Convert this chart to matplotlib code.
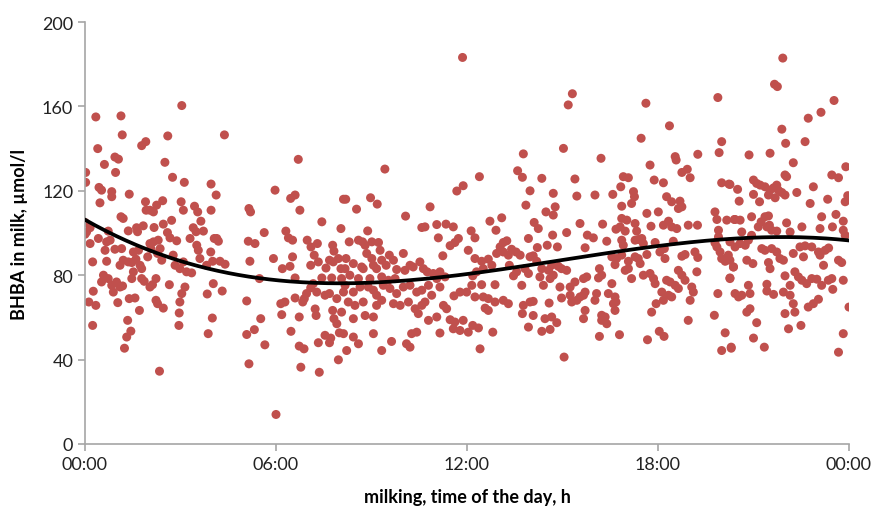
import numpy as np
import matplotlib.pyplot as plt

# BHBA readings (hour of milking, umol/l)
strip_00_04 = [
    (3.04, 160.4), (0.34, 155), (1.13, 155.5), (1.17, 146.5), (2.6, 146), (1.78, 141.4),
    (1.91, 143.3), (0.4, 140), (0.94, 136), (1.05, 135), (0.61, 132.5), (2.51, 133.5),
    (0.96, 128.7), (0.02, 128.7), (0.02, 124), (2.75, 126.4), (3.12, 124), (3.96, 123.2),
    (0.44, 121.6), (0.52, 120.3), (0.84, 119.6), (0.84, 117.2), (1.39, 118.4), (0.47, 114.3),
    (1.9, 114.8), (2.04, 110.8), (2.25, 113.2), (2.44, 115.3), (2.15, 110), (1.92, 110.8),
    (3.02, 114.8), (3.09, 110.8), (3.44, 112.7), (3.54, 110), (3.96, 110.8), (1.13, 107.7),
    (1.2, 106.9), (2.72, 106), (3.64, 105.6), (0.0, 105), (0.05, 100.5), (0.16, 102.5),
    (0.0, 99.4), (1.36, 101), (1.62, 102.5), (1.83, 103.4), (1.65, 100.6), (2.17, 102.6),
    (2.46, 104.2), (2.59, 100.2), (2.67, 97.7), (3.49, 100.6), (3.4, 102.5), (3.72, 100.9),
    (3.3, 97.4), (4.06, 97.4), (0.42, 97.4), (0.73, 100.9), (0.16, 95), (0.68, 95.8),
    (0.79, 96.6), (0.63, 91.8), (2.04, 95), (2.15, 95.8), (2.3, 96.6), (2.36, 92.6),
    (2.07, 92.6), (2.88, 96.3), (3.51, 94.2), (3.56, 91.8), (3.61, 87.9), (3.95, 91),
    (0.94, 92.3), (1.15, 92.6), (1.52, 91), (1.68, 91.8), (1.97, 88.7), (2.77, 89.5),
    (0.24, 86.3), (0.68, 86.6), (1.2, 87.1), (1.36, 86.3), (1.47, 86), (1.6, 87.6),
    (1.73, 84.7), (1.1, 84.7), (2.41, 87.1), (2.28, 90.3), (2.83, 84.7), (2.98, 83.1),
    (3.19, 81.6), (3.35, 81.1), (3.09, 86.3), (3.82, 84.7), (4.01, 86.6), (1.52, 81.6),
    (1.47, 78.4), (1.78, 83.1), (0.58, 80), (0.73, 78.4), (0.52, 76.8), (0.84, 75.2),
    (1.1, 74.4), (0.99, 76.8), (0.89, 72), (1.18, 74.9), (1.78, 78.4), (1.86, 77.1),
    (2.04, 74.4), (2.23, 78.4), (2.12, 75.5), (2.65, 75.5), (3.14, 74.4), (3.04, 71.3),
    (2.98, 67.3), (4.03, 76), (0.26, 72.4), (0.12, 67.3), (0.34, 65.7), (1.03, 67),
    (1.39, 68.9), (1.57, 69.2), (2.23, 68.1), (2.28, 66.5), (2.46, 64.4), (1.71, 63.3),
    (2.96, 62.1), (3.84, 71.1), (4.0, 59.7), (0.24, 56.2), (1.34, 58.6), (1.44, 53.5),
    (1.31, 50.7), (2.95, 56.2), (3.87, 52.3), (1.24, 45.4), (2.34, 34.5),
]

strip_04_08 = [
    (4.38, 146.5), (6.7, 134.9), (5.97, 120.3), (6.46, 116.4), (6.6, 118), (6.75, 110.8),
    (5.15, 111.6), (5.2, 110), (7.44, 105.3), (4.12, 118), (8.12, 116), (8.04, 102.1),
    (5.63, 100.2), (6.31, 100.9), (6.39, 97.7), (6.52, 96.6), (4.14, 97.4), (4.19, 96.1),
    (5.13, 96.1), (5.34, 95), (6.98, 96.6), (7.1, 93.4), (7.3, 95), (7.78, 94.2),
    (7.82, 91.4), (5.18, 86.6), (5.92, 87.9), (6.2, 83.1), (6.44, 84.2), (6.52, 88.7),
    (7.2, 89.5), (7.09, 84.7), (7.33, 86.3), (7.57, 83.4), (7.68, 87.1), (7.8, 86.3),
    (7.96, 87.9), (8.04, 83.1), (4.4, 85.2), (4.24, 86.6), (5.48, 78.4), (6.6, 78.7),
    (7.44, 78.7), (7.75, 78.7), (8.06, 78.4), (4.31, 72.5), (7.09, 74), (7.28, 72),
    (6.96, 71.3), (7.17, 76), (6.89, 68.9), (6.84, 67.3), (7.54, 70.5), (7.68, 71.3),
    (7.91, 68.9), (8.12, 72), (6.6, 69.2), (6.15, 66.5), (6.28, 67.3), (6.18, 61.3),
    (5.08, 67.8), (5.52, 59.4), (6.73, 60.2), (7.23, 64), (7.26, 60.9), (7.78, 63.3),
    (7.82, 59.4), (7.91, 57), (8.06, 62.5), (7.99, 52.7), (8.12, 52.3), (5.32, 54.2),
    (5.08, 51.9), (6.47, 53.4), (7.54, 51.5), (7.72, 50.2), (7.68, 48), (7.33, 48),
    (5.65, 47), (6.73, 46.4), (6.88, 45.1), (5.15, 38), (6.78, 36.4), (7.36, 34),
    (7.96, 39.9), (6.0, 14),
]

strip_08_12 = [
    (11.86, 183.2), (9.42, 130.3), (11.68, 119.9), (11.88, 122.4), (8.19, 116), (8.97, 116.7),
    (9.18, 113.7), (8.53, 111.3), (10.84, 112.4), (10.07, 108), (8.88, 101), (10.58, 102.6),
    (10.68, 102.9), (11.05, 104), (11.34, 104.2), (11.57, 102.9), (12.13, 101), (8.3, 95.8),
    (8.59, 96.6), (8.72, 95.8), (8.8, 94.2), (9.01, 95.8), (9.22, 95.5), (9.27, 91.8),
    (11.1, 97.7), (11.73, 97.4), (11.62, 95.5), (11.47, 94), (12.04, 91.8), (10.0, 90.3),
    (9.56, 89.5), (9.69, 87.1), (8.85, 90.3), (9.01, 87.9), (9.06, 84.7), (9.16, 83.1),
    (9.32, 87.1), (9.46, 84.7), (8.2, 87.9), (8.43, 85.5), (8.69, 83.9), (8.74, 83.1),
    (11.24, 89.2), (8.17, 83.1), (9.79, 82.7), (10.05, 82.3), (10.21, 84.7), (10.31, 83.9),
    (10.52, 86.3), (10.63, 83.1), (10.75, 81.6), (10.94, 80.8), (11.15, 81.6), (11.05, 78.4),
    (11.31, 79.2), (12.18, 79.7), (12.15, 75.2), (11.99, 72), (8.32, 80), (8.59, 78.4),
    (8.95, 78.4), (9.32, 79.2), (9.53, 77.6), (9.74, 78.4), (8.17, 75.2), (8.43, 72),
    (8.64, 74.4), (8.9, 74.4), (9.06, 72.9), (9.16, 70.5), (9.37, 75.2), (9.58, 73.7),
    (9.79, 71.3), (10.0, 74.4), (10.21, 75.2), (10.42, 72), (10.58, 72.9), (10.79, 75.2),
    (10.89, 70.5), (11.15, 74.4), (11.59, 70.2), (11.78, 72), (8.27, 67.3), (8.48, 65.7),
    (8.74, 67.3), (9.16, 65.7), (9.32, 68.1), (9.69, 66.5), (9.9, 65.7), (10.16, 67.3),
    (10.37, 64.1), (10.58, 65.7), (10.68, 67.3), (11.36, 64.1), (11.26, 65.7), (8.8, 60.9),
    (9.06, 60.2), (8.43, 59.4), (10.47, 61.8), (10.79, 58.6), (11.05, 60.2), (11.47, 58.9),
    (11.62, 57.8), (11.88, 58.6), (11.78, 53.8), (12.04, 53), (12.18, 56.2), (11.57, 54.6),
    (8.43, 50.7), (9.06, 52.3), (10.26, 52.3), (10.42, 53), (11.15, 52.6), (8.59, 47.5),
    (9.63, 48.6), (10.1, 47.5), (10.21, 45.9), (9.32, 44.3), (8.22, 44.3),
]

strip_12_16 = [
    (15.31, 166), (15.18, 160.7), (15.03, 140.1), (13.77, 137.5), (16.21, 135.4), (12.39, 126.7),
    (13.59, 129.5), (13.74, 126.4), (14.35, 125.9), (15.39, 125.6), (13.98, 120), (14.71, 118.8),
    (15.45, 117.5), (16.02, 118), (13.85, 113.2), (14.48, 110), (14.71, 108.5), (14.77, 112.4),
    (13.09, 107.2), (12.72, 105.6), (12.91, 101.3), (14.11, 105), (14.24, 102.1), (15.55, 104.5),
    (16.26, 104.2), (12.25, 97.7), (14.69, 99), (15.13, 100.2), (13.93, 97.4), (15.78, 99),
    (15.97, 97.7), (14.52, 94.2), (14.84, 93.4), (14.21, 93.1), (15.71, 93), (13.14, 95.5),
    (13.25, 96.3), (13.04, 93.4), (12.93, 90.3), (13.14, 91), (13.3, 89.5), (13.4, 92.3),
    (13.54, 91), (13.67, 89.5), (12.25, 87.9), (12.46, 86.6), (12.67, 87.6), (12.78, 84.7),
    (12.51, 83.1), (12.3, 81.6), (13.98, 88.7), (14.08, 89.2), (14.19, 86.6), (13.33, 84.7),
    (13.56, 81.6), (13.82, 83.1), (13.93, 80.8), (13.46, 79.7), (14.35, 83.1), (14.56, 82.3),
    (14.66, 84.7), (14.87, 84.2), (14.97, 83.1), (15.13, 82.3), (14.29, 79.2), (14.4, 75.2),
    (14.61, 78.4), (14.71, 80), (14.92, 74.4), (15.24, 74.4), (15.39, 76.8), (15.66, 78.4),
    (15.76, 79.2), (16.16, 83.1), (16.23, 80), (16.13, 78.7), (12.46, 75.5), (12.88, 75.5),
    (13.72, 75.2), (12.25, 69.7), (12.51, 69.7), (12.67, 68.9), (12.88, 67.3), (13.14, 68.1),
    (12.57, 64.4), (12.67, 63.3), (13.3, 66.5), (13.77, 65.7), (13.98, 67.3), (14.08, 67.6),
    (13.74, 61.8), (14.58, 66.8), (14.97, 69.2), (15.29, 67.3), (15.45, 68.1), (15.24, 70.5),
    (15.55, 69.7), (15.66, 70.5), (15.71, 72), (16.02, 68.1), (16.07, 71.3), (14.08, 60.9),
    (14.45, 59.4), (14.66, 60.2), (14.82, 57.5), (15.71, 63.3), (15.66, 59.4), (16.23, 61),
    (16.23, 58.6), (12.36, 55), (12.81, 53), (13.93, 55.4), (14.35, 53.4), (14.61, 54.3),
    (16.16, 51), (12.41, 45.1), (15.05, 41.2),
]

strip_16_20 = [
    (17.62, 161.5), (19.88, 164.2), (18.36, 150.8), (17.47, 144.9), (20.0, 143.3), (19.92, 138.1),
    (18.54, 136.2), (18.57, 134.6), (19.25, 137.3), (17.75, 132.2), (18.75, 128.7), (18.92, 130.2),
    (19.01, 126.2), (20.0, 123.8), (20.23, 123.2), (17.88, 125.1), (18.17, 123.8), (16.91, 126.7),
    (17.07, 126.2), (16.83, 121.9), (17.23, 119.6), (17.26, 117.2), (16.58, 118.3), (18.27, 117.2),
    (18.43, 114.8), (18.69, 115.1), (18.75, 112.4), (18.64, 111.6), (17.17, 114), (16.86, 112.7),
    (19.79, 110), (19.85, 106.4), (20.16, 106.1), (20.4, 106.4), (17.65, 109.3), (18.01, 110),
    (16.86, 106.9), (17.02, 106.1), (16.81, 102.9), (16.68, 101.8), (17.28, 104.5), (17.33, 100.9),
    (16.97, 100.9), (17.78, 103.2), (18.17, 103.7), (18.33, 105.6), (18.43, 102.9), (18.59, 102.1),
    (18.95, 103.7), (19.24, 103.7), (19.9, 101.3), (19.9, 98.2), (19.79, 95.3), (16.39, 96.1),
    (16.86, 96.6), (16.91, 94.2), (17.28, 96.6), (17.38, 96.9), (17.49, 97.4), (17.54, 95),
    (17.91, 95.5), (18.2, 92.6), (18.48, 96.1), (16.55, 88.7), (16.7, 87.9), (16.65, 85),
    (16.86, 89.5), (17.28, 88.7), (17.38, 87.9), (17.65, 89.8), (17.44, 85.5), (17.07, 86.6),
    (18.06, 91), (18.22, 87.9), (18.75, 89), (18.85, 89.8), (19.16, 91), (19.25, 88.4),
    (19.22, 81.6), (19.85, 93.4), (19.95, 91), (20.11, 86.6), (20.0, 87.9), (20.21, 89.5),
    (20.37, 83.9), (20.26, 78.4), (16.97, 82.3), (17.17, 78.4), (17.07, 83.1), (17.54, 80),
    (17.75, 80.8), (17.86, 78.4), (17.91, 76), (18.27, 77.6), (18.38, 76.8), (18.64, 82.3),
    (18.75, 80), (18.54, 75.2), (18.64, 73.7), (18.85, 77.6), (18.12, 72), (18.33, 70.5),
    (18.43, 69.7), (18.17, 68.1), (19.06, 74.4), (19.11, 72), (19.01, 68.1), (16.55, 76),
    (16.44, 71.3), (16.65, 69.7), (16.6, 66.5), (16.68, 67.3), (17.94, 66.5), (17.8, 62.5),
    (16.34, 60.2), (16.39, 57), (16.65, 63.3), (18.95, 58.6), (19.77, 61), (19.88, 71.3),
    (16.79, 51.8), (18.04, 53.4), (18.19, 51), (17.67, 49.4), (20.11, 52.7), (20.0, 44.3),
    (20.3, 45.9),
]

strip_20_24 = [
    (21.92, 182.9), (21.66, 170.5), (21.75, 169.4), (23.53, 162.8), (22.72, 154.4), (23.12, 157.2),
    (21.89, 149.2), (22.62, 143.3), (22.01, 142.5), (21.52, 137.8), (20.86, 137), (22.25, 133.3),
    (23.9, 131.4), (21.99, 127.5), (22.04, 126.7), (23.46, 127.5), (23.67, 126.2), (20.26, 123),
    (21.0, 125.1), (21.1, 123.5), (21.21, 122.7), (21.36, 121.9), (21.52, 120.3), (21.63, 121.4),
    (21.73, 122.7), (21.78, 120.3), (21.89, 119.2), (21.99, 118), (21.47, 118), (21.68, 116.7),
    (22.88, 121.9), (22.36, 119.2), (20.5, 120.7), (21.0, 118.3), (20.55, 115.1), (21.19, 114.8),
    (22.78, 114), (23.33, 116), (23.88, 114.8), (23.96, 117.7), (20.94, 107.7), (21.24, 105.3),
    (21.36, 107.7), (21.47, 108.1), (21.15, 102.9), (21.42, 102.9), (21.57, 101.3), (21.73, 100.9),
    (21.5, 103.7), (20.42, 106.4), (20.58, 106.1), (22.04, 104.8), (22.52, 102.9), (23.14, 107.7),
    (23.59, 108.8), (23.82, 105.6), (23.09, 102.1), (23.48, 102.9), (23.82, 101.3), (23.88, 98.9),
    (20.63, 100.5), (20.94, 98.9), (20.84, 96.6), (22.15, 100.5), (20.26, 95.8), (20.42, 93.4),
    (20.58, 95), (20.74, 94.2), (21.26, 92.6), (21.36, 91.8), (21.57, 92.6), (21.73, 91),
    (21.83, 87.9), (21.94, 87.1), (22.25, 90.3), (22.46, 93.4), (22.62, 93.9), (22.83, 93.4),
    (23.04, 91), (23.25, 91.8), (23.36, 92.9), (20.26, 87.1), (20.37, 83.9), (20.79, 87.1),
    (20.98, 85.5), (21.47, 86), (21.52, 83.1), (22.57, 88.7), (23.09, 89.5), (23.2, 84.7),
    (23.67, 87.1), (23.77, 86), (20.26, 78.7), (21.99, 79.7), (22.15, 75.2), (22.3, 81.6),
    (22.41, 79.2), (22.52, 77.6), (22.67, 76), (22.83, 78.4), (22.99, 78.1), (23.14, 75.2),
    (23.35, 77.6), (23.46, 78.4), (23.49, 73.3), (23.82, 77.6), (20.84, 75.2), (21.42, 75.7),
    (21.42, 72.5), (21.63, 70.9), (20.42, 71.3), (20.53, 69.7), (20.63, 70.5), (20.89, 71.3),
    (21.94, 72), (22.15, 70.5), (22.25, 66.5), (22.3, 62.5), (21.99, 61.8), (22.72, 64.9),
    (22.88, 66.5), (23.04, 68.6), (20.79, 62.5), (20.89, 64.1), (21.1, 57.5), (22.1, 54.6),
    (22.49, 56.2), (24.0, 64.9), (20.3, 45.4), (21.0, 50.2), (21.34, 45.9), (23.82, 52.3),
    (23.67, 43.5),
]

# points
trend_hours = [0, 4, 8, 12, 16, 20, 24]
trend_bhba = [106, 83.5, 75.5, 80.5, 89.5, 97.3, 96.3]

xticks = [0, 6, 12, 18, 24]
xtick_labels = ['00:00', '06:00', '12:00', '18:00', '00:00']
yticks = [0, 40, 80, 120, 160, 200]

pts = np.array(strip_00_04 + strip_04_08 + strip_08_12 + strip_12_16 + strip_16_20 + strip_20_24)
hour, bhba = pts[:, 0], pts[:, 1]

plt.rcParams['font.family'] = ['Lato', 'DejaVu Sans']

fig = plt.figure(figsize=(8.76, 5.10), dpi=100)
ax = fig.add_axes([85 / 876, 65 / 510, 764 / 876, 422 / 510])

ax.scatter(hour, bhba, s=42, color='#c0504d', edgecolors='none', zorder=2)

coef = np.polyfit(trend_hours, trend_bhba, 3)
xs = np.linspace(0, 24, 300)
ax.plot(xs, np.polyval(coef, xs), color='black', lw=2.7, zorder=3)

ax.set_xlim(0, 24)
ax.set_ylim(0, 200)
ax.set_xticks(xticks)
ax.set_xticklabels(xtick_labels)
ax.set_yticks(yticks)

for side in ['top', 'right']:
    ax.spines[side].set_visible(False)
for side in ['left', 'bottom']:
    ax.spines[side].set_color('#a6a6a6')
    ax.spines[side].set_linewidth(1.2)
ax.tick_params(axis='both', colors='#a6a6a6', length=5, width=1.2,
               labelsize=13, labelcolor='#222222')
ax.tick_params(axis='x', pad=4)

ax.set_ylabel('BHBA in milk, µmol/l', fontsize=13, fontweight='bold', labelpad=10)
ax.set_xlabel('milking, time of the day, h', fontsize=13, fontweight='bold', labelpad=11)

plt.savefig('out.png', dpi=100)
